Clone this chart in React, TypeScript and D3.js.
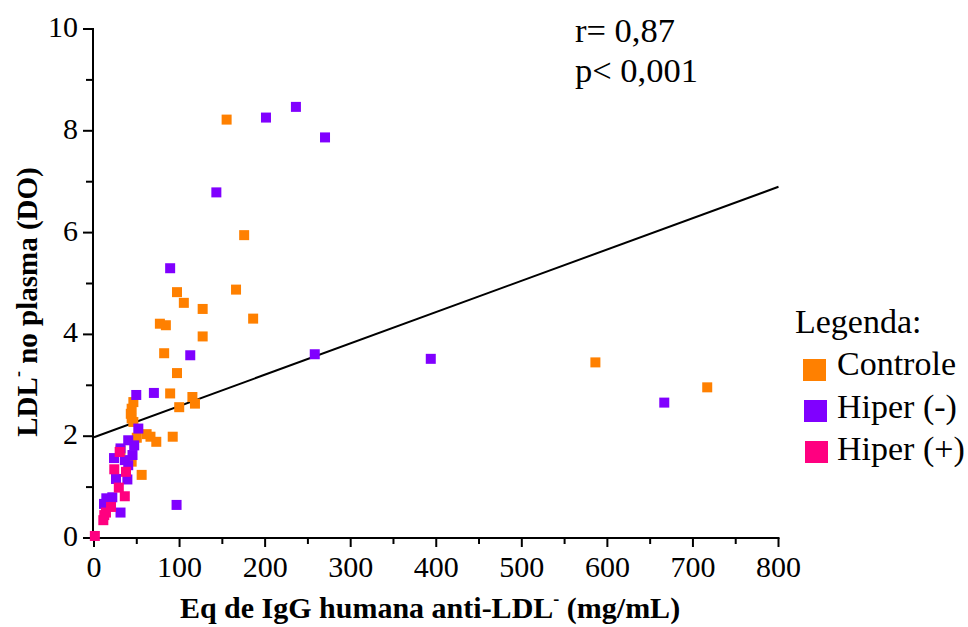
import React from "react";
import * as d3 from "d3";

const controleX = [155, 175.5, 166, 186, 97, 105, 127, 127, 77, 84, 82, 97, 89, 115, 118, 99.6, 92, 586, 716.7, 46, 44, 43, 44, 46, 50, 61.5, 66, 72.8, 44, 55.7, 31];
const controleY = [8.22, 5.95, 4.88, 4.31, 4.83, 4.62, 4.5, 3.96, 4.21, 4.18, 3.63, 3.24, 2.84, 2.77, 2.64, 2.57, 1.99, 3.45, 2.96, 2.67, 2.54, 2.44, 2.35, 2.28, 1.97, 2.04, 1.99, 1.89, 1.5, 1.24, 1.72];

const hiperMenosX = [236, 201, 270, 143, 89, 112.5, 258, 393.6, 666.5, 49.4, 70, 51.8, 40, 47, 31, 45, 23.4, 36, 40, 25.7, 39, 21.4, 14.4, 11.7, 31, 96.5];
const hiperMenosY = [8.47, 8.26, 7.87, 6.79, 5.3, 3.59, 3.61, 3.52, 2.66, 2.81, 2.85, 2.15, 1.92, 1.82, 1.76, 1.63, 1.57, 1.53, 1.43, 1.16, 1.15, 0.8, 0.78, 0.67, 0.5, 0.65];

const hiperMaisX = [30, 23.7, 37.4, 29, 36, 19.9, 14, 10.9, 12, 1];
const hiperMaisY = [1.69, 1.35, 1.3, 0.99, 0.82, 0.61, 0.5, 0.35, 0.45, 0.04];

const regX = [0, 800];
const regY = [1.98, 6.9];

const xTicks = [0, 100, 200, 300, 400, 500, 600, 700, 800];
const xMinor = [50, 150, 250, 350, 450, 550, 650, 750];
const yTicks = [0, 2, 4, 6, 8, 10];
const yMinor = [1, 3, 5, 7, 9];

const seriesNames = ["Controle", "Hiper (-)", "Hiper (+)"];
const seriesColors = ["#FF8000", "#8000FF", "#FF0080"];

const FONT = "'Liberation Serif', 'Times New Roman', serif";

export default function App() {
  const x = d3.scaleLinear().domain([0, 800]).range([94, 778.5]);
  const y = d3.scaleLinear().domain([0, 10]).range([538, 29]);
  const S = 10;

  const series = [
    { xs: controleX, ys: controleY, color: seriesColors[0] },
    { xs: hiperMenosX, ys: hiperMenosY, color: seriesColors[1] },
    { xs: hiperMaisX, ys: hiperMaisY, color: seriesColors[2] },
  ];

  const line = d3.line<number>().x((_, i) => x(regX[i])).y((d) => y(d));
  const ax = x(0) - 1;

  return (
    <svg width={968} height={627} style={{ position: "absolute", left: 0, top: 0, background: "#fff" }} fontFamily={FONT}>
      <rect width={968} height={627} fill="#fff" />
      {/* axes */}
      <line x1={ax - 1} x2={x(800) + 1} y1={y(0)} y2={y(0)} stroke="#000" strokeWidth={2} />
      <line x1={ax} x2={ax} y1={y(0) + 1} y2={y(10) - 1} stroke="#000" strokeWidth={2} />
      {xTicks.map((t) => (
        <g key={"xt" + t}>
          <line x1={x(t)} x2={x(t)} y1={y(0)} y2={y(0) + 9} stroke="#000" strokeWidth={2} />
          <text x={x(t)} y={577} fontSize={30} textAnchor="middle">{t}</text>
        </g>
      ))}
      {xMinor.map((t) => (
        <line key={"xm" + t} x1={x(t)} x2={x(t)} y1={y(0)} y2={y(0) + 6} stroke="#000" strokeWidth={2} />
      ))}
      {yTicks.map((t) => (
        <g key={"yt" + t}>
          <line x1={ax - 10} x2={ax} y1={y(t)} y2={y(t)} stroke="#000" strokeWidth={2} />
          <text x={78} y={y(t) + 8} fontSize={30} textAnchor="end">{t}</text>
        </g>
      ))}
      {yMinor.map((t) => (
        <line key={"ym" + t} x1={ax - 7} x2={ax} y1={y(t)} y2={y(t)} stroke="#000" strokeWidth={2} />
      ))}

      {/* regression line */}
      <path d={line(regY) || ""} fill="none" stroke="#000" strokeWidth={2} />

      {/* points */}
      {series.map((s, si) => (
        <g key={"s" + si}>
          {s.xs.map((xv, i) => (
            <rect key={i} x={x(xv) - S / 2} y={y(s.ys[i]) - S / 2} width={S} height={S} fill={s.color} />
          ))}
        </g>
      ))}

      {/* axis titles */}
      <text x={430} y={618} fontSize={30} fontWeight="bold" textAnchor="middle">
        Eq de IgG humana anti-LDL<tspan fontSize={18} dy={-13}>-</tspan><tspan dy={13}> (mg/mL)</tspan>
      </text>
      <text transform={`translate(37,302) rotate(-90)`} fontSize={29} fontWeight="bold" textAnchor="middle">
        LDL<tspan fontSize={18} dy={-13}>-</tspan><tspan dy={13}> no plasma (DO)</tspan>
      </text>

      {/* stats */}
      <text x={575} y={42} fontSize={34.5}>r= 0,87</text>
      <text x={575} y={82} fontSize={34.5}>p&lt; 0,001</text>

      {/* legend */}
      <text x={795} y={333} fontSize={34}>Legenda:</text>
      {seriesNames.map((n, i) => (
        <g key={"lg" + i}>
          <rect x={803 + i} y={359 + i * 41} width={23} height={22} fill={seriesColors[i]} />
          <text x={837} y={375 + i * 42.5} fontSize={34}>{n}</text>
        </g>
      ))}
    </svg>
  );
}
